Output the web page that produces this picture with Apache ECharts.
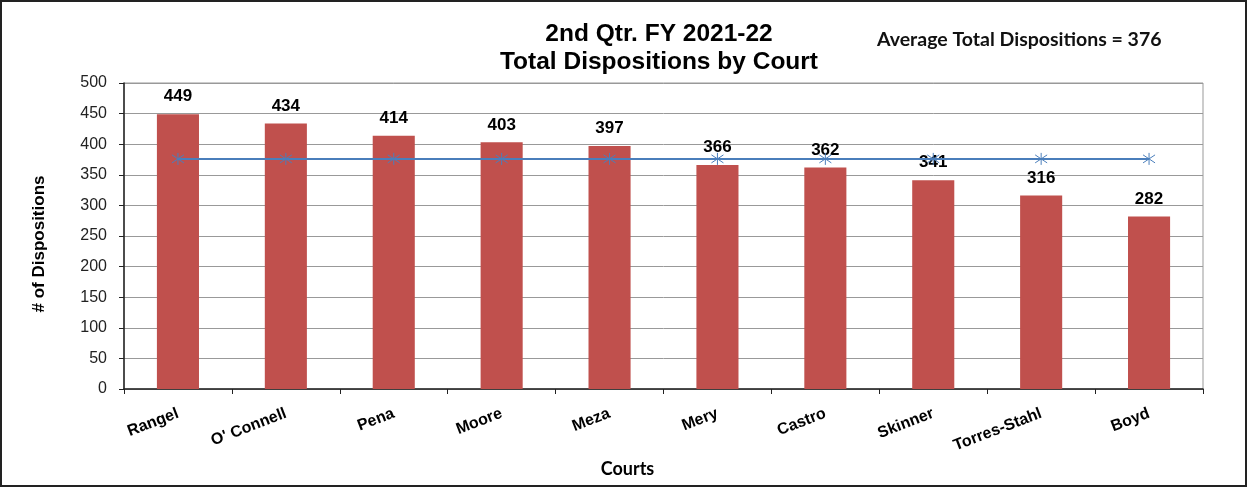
<!DOCTYPE html>
<html>
<head>
<meta charset="utf-8">
<script src="https://cdn.jsdelivr.net/npm/echarts@6/dist/echarts.min.js"></script>
<style>
html, body { margin: 0; padding: 0; background: #fff; }
#chart { width: 1247px; height: 487px; box-sizing: border-box; border: 2px solid #222; }
</style>
</head>
<body>
<div id="chart"></div>
<script>
// data
var courts = ['Rangel', "O' Connell", 'Pena', 'Moore', 'Meza', 'Mery', 'Castro', 'Skinner', 'Torres-Stahl', 'Boyd'];
var dispositions = [449, 434, 414, 403, 397, 366, 362, 341, 316, 282];
var average = [376, 376, 376, 376, 376, 376, 376, 376, 376, 376];
var yTicks = [0, 50, 100, 150, 200, 250, 300, 350, 400, 450, 500];

var chart = echarts.init(document.getElementById('chart'));

// asterisk marker for the average line
var starPath = 'path://M0,-6L0,6M-6,-4L6,4M-6,4L6,-4';

chart.setOption({
	animation: false,
	textStyle: { fontFamily: 'Liberation Sans, Arial, sans-serif' },
	title: [{
		text: '2nd Qtr. FY 2021-22\nTotal Dispositions by Court',
		left: 652,
		top: 13,
		textAlign: 'center',
		textStyle: { fontSize: 24.5, fontWeight: 'bold', color: '#000', lineHeight: 28 }
	}, {
		text: 'Average Total Dispositions = 376',
		left: 870,
		top: 23,
		textStyle: { fontSize: 19.5, fontWeight: 'bold', color: '#111', fontFamily: 'Lato, sans-serif' }
	}],
	grid: {
		left: 122,
		right: 42,
		top: 81,
		bottom: 96,
		show: true,
		borderColor: '#999',
		borderWidth: 1
	},
	xAxis: {
		type: 'category',
		data: courts,
		name: 'Courts',
		nameLocation: 'middle',
		nameGap: 67,
		nameTextStyle: { fontSize: 18, fontWeight: 'bold', color: '#000', fontFamily: 'Lato, sans-serif', padding: [0, 72, 0, 0] },
		axisLine: { lineStyle: { color: '#222', width: 1.5 } },
		axisTick: { show: true, length: 5, lineStyle: { color: '#222' } },
		axisLabel: {
			rotate: 21,
			margin: 24,
			fontSize: 16,
			fontWeight: 'bold',
			color: '#000',
			interval: 0
		}
	},
	yAxis: {
		type: 'value',
		min: 0,
		max: 500,
		interval: 50,
		name: '# of Dispositions',
		nameLocation: 'middle',
		nameGap: 76,
		nameRotate: 90,
		nameTextStyle: { fontSize: 17, fontWeight: 'bold', color: '#000', padding: [0, 16, 0, 0] },
		axisLine: { show: true, lineStyle: { color: '#222', width: 1.5 } },
		axisTick: { show: true, length: 5, lineStyle: { color: '#222' } },
		axisLabel: {
			fontSize: 16,
			color: '#222',
			margin: 17,
			formatter: function (v) { return yTicks.indexOf(v) >= 0 ? String(v) : ''; }
		},
		splitLine: { lineStyle: { color: '#999', width: 1 } }
	},
	series: [{
		name: 'Dispositions',
		type: 'bar',
		data: dispositions,
		barWidth: '39%',
		itemStyle: { color: '#C0504D' },
		label: {
			show: true,
			position: 'top',
			distance: 9,
			fontSize: 17,
			fontWeight: 'bold',
			color: '#000'
		},
		z: 2
	}, {
		name: 'Average',
		type: 'line',
		data: average,
		symbol: starPath,
		symbolSize: 12,
		showSymbol: true,
		lineStyle: { color: '#4A7EBB', width: 2 },
		itemStyle: { color: '#4A7EBB', borderColor: '#4A7EBB', borderWidth: 1 },
		z: 3
	}]
});
</script>
</body>
</html>
